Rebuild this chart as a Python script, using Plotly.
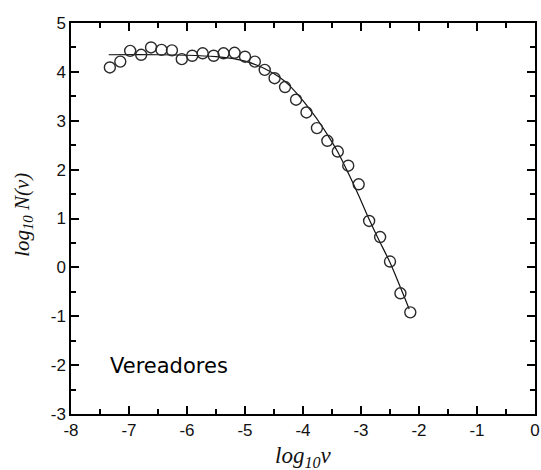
import plotly.graph_objects as go

# Observed data (log10 v, log10 N(v))
x_obs = [-7.33, -7.15, -6.98, -6.79, -6.62, -6.44, -6.26, -6.09, -5.91, -5.73,
         -5.54, -5.37, -5.18, -5.00, -4.83, -4.66, -4.49, -4.31, -4.12, -3.94,
         -3.76, -3.58, -3.40, -3.22, -3.04, -2.86, -2.67, -2.50, -2.32, -2.15]
y_obs = [4.09, 4.21, 4.43, 4.35, 4.50, 4.45, 4.44, 4.26, 4.33, 4.38,
         4.33, 4.38, 4.39, 4.31, 4.21, 4.04, 3.87, 3.69, 3.43, 3.17,
         2.85, 2.59, 2.37, 2.08, 1.70, 0.95, 0.62, 0.12, -0.53, -0.92]

# Fitted curve
x_fit = [-7.35, -6.5, -6.0, -5.5, -5.2, -5.0, -4.8, -4.6, -4.43, -4.26, -4.1,
         -3.98, -3.85, -3.72, -3.56, -3.41, -3.22, -3.04, -2.87, -2.70, -2.50,
         -2.33, -2.17]
y_fit = [4.35, 4.35, 4.34, 4.31, 4.27, 4.22, 4.14, 4.03, 3.91, 3.75, 3.55,
         3.38, 3.18, 2.97, 2.68, 2.38, 1.93, 1.47, 1.01, 0.58, 0.10,
         -0.38, -0.85]

x_ticks = [-8, -7, -6, -5, -4, -3, -2, -1, 0]
x_tick_labels = ["-8", "-7", "-6", "-5", "-4", "-3", "-2", "-1", "0"]
y_ticks = [-3, -2, -1, 0, 1, 2, 3, 4, 5]
y_tick_labels = ["-3", "-2", "-1", "0", "1", "2", "3", "4", "5"]

label_text = "Vereadores"

fig = go.Figure()
fig.add_trace(go.Scatter(x=x_fit, y=y_fit, mode="lines",
                         line=dict(color="#111111", width=1.2, shape="spline", smoothing=1.0),
                         showlegend=False))
fig.add_trace(go.Scatter(x=x_obs, y=y_obs, mode="markers",
                         marker=dict(symbol="circle-open", size=11,
                                     color="#2a2a2a", line=dict(width=1.4, color="#2a2a2a")),
                         showlegend=False))

axis_common = dict(
    showgrid=False, zeroline=False, showline=True, linecolor="black", linewidth=1.5,
    mirror="ticks", ticks="inside", ticklen=8, tickwidth=1.5, tickcolor="black",
    tickfont=dict(family="Liberation Sans, Arial", size=17, color="#111111"),
    ticklabeloverflow="allow",
    minor=dict(ticks="inside", ticklen=5, tickwidth=1.5, tickcolor="black", dtick=0.5),
)

fig.update_layout(
    width=541, height=470,
    margin=dict(l=71, r=1, t=23, b=56),
    paper_bgcolor="white", plot_bgcolor="white",
    xaxis=dict(range=[-8, 0], tickmode="array", tickvals=x_ticks, ticktext=x_tick_labels,
               **axis_common),
    yaxis=dict(range=[-3, 5], tickmode="array", tickvals=y_ticks, ticktext=y_tick_labels,
               **axis_common),
)
fig.update_xaxes(minor=dict(tick0=-8))
fig.update_yaxes(minor=dict(tick0=-3))

fig.add_annotation(x=-7.37, y=-2.02, xref="x", yref="y", text=label_text,
                   showarrow=False, xanchor="left", yanchor="middle",
                   font=dict(family="DejaVu Sans", size=21, color="black"))

fig.add_annotation(x=0.5, y=-0.11, xref="paper", yref="paper",
                   text="<i>log<sub>10</sub>ν</i>", showarrow=False,
                   xanchor="center", yanchor="middle",
                   font=dict(family="Liberation Serif, Times New Roman", size=23, color="#111111"))

fig.add_annotation(x=-0.105, y=0.51, xref="paper", yref="paper",
                   text="<i>log<sub>10</sub> N(ν)</i>", showarrow=False, textangle=-90,
                   xanchor="center", yanchor="middle",
                   font=dict(family="Liberation Serif, Times New Roman", size=21, color="#111111"))

fig.write_html("out.html")
